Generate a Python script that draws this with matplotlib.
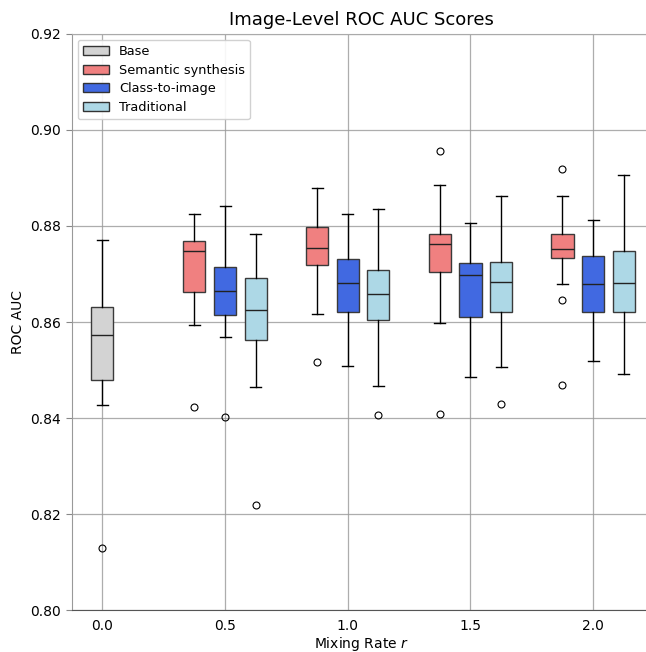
import matplotlib.pyplot as plt
from matplotlib.patches import Patch

# mixing rates
rates = [0.5, 1.0, 1.5, 2.0]

# base model (r = 0)
base_stats = dict(whislo=0.8427, q1=0.8479, med=0.8573, q3=0.8631, whishi=0.8770, fliers=[0.8130])

# per method: lower whisker, Q1, median, Q3, upper whisker, outliers (one entry per rate)
sem_lo = [0.8594, 0.8617, 0.8599, 0.8679]
sem_q1 = [0.8662, 0.8719, 0.8705, 0.8733]
sem_med = [0.8748, 0.8754, 0.8763, 0.8752]
sem_q3 = [0.8769, 0.8798, 0.8783, 0.8784]
sem_hi = [0.8825, 0.8879, 0.8885, 0.8862]
sem_fl = [[0.8424], [0.8516], [0.8408, 0.8957], [0.8469, 0.8647, 0.8919]]

cls_lo = [0.8570, 0.8509, 0.8486, 0.8520]
cls_q1 = [0.8615, 0.8621, 0.8611, 0.8620]
cls_med = [0.8665, 0.8682, 0.8697, 0.8679]
cls_q3 = [0.8715, 0.8731, 0.8723, 0.8737]
cls_hi = [0.8842, 0.8825, 0.8807, 0.8812]
cls_fl = [[0.8403], [], [], []]

trd_lo = [0.8464, 0.8467, 0.8506, 0.8493]
trd_q1 = [0.8563, 0.8604, 0.8620, 0.8620]
trd_med = [0.8625, 0.8658, 0.8683, 0.8681]
trd_q3 = [0.8692, 0.8709, 0.8725, 0.8747]
trd_hi = [0.8783, 0.8835, 0.8863, 0.8906]
trd_fl = [[0.8219], [0.8407], [0.8430], []]

labels = ['Base', 'Semantic synthesis', 'Class-to-image', 'Traditional']
colors = ['lightgray', 'lightcoral', 'royalblue', 'lightblue']


def make_stats(lo, q1, med, q3, hi, fl):
    return [dict(whislo=lo[i], q1=q1[i], med=med[i], q3=q3[i], whishi=hi[i], fliers=fl[i])
            for i in range(len(lo))]


fig = plt.figure(figsize=(6.46, 6.52), dpi=100)
# the axes run a little past the right edge of the picture (right spine cut off)
ax = fig.add_axes([0.111, 0.0638, 0.8957, 0.8844])

width = 0.09
boxprops = dict(edgecolor='#3a3a3a', linewidth=1.0)
common = dict(widths=width, patch_artist=True, boxprops=boxprops,
              whiskerprops=dict(color='black', linewidth=1.0),
              capprops=dict(color='black', linewidth=1.0),
              medianprops=dict(color='#222222', linewidth=1.0),
              flierprops=dict(marker='o', markerfacecolor='none', markeredgecolor='black',
                              markersize=5, markeredgewidth=0.8))

groups = [
    ([base_stats], [0.0]),
    (make_stats(sem_lo, sem_q1, sem_med, sem_q3, sem_hi, sem_fl), [r - 0.125 for r in rates]),
    (make_stats(cls_lo, cls_q1, cls_med, cls_q3, cls_hi, cls_fl), rates),
    (make_stats(trd_lo, trd_q1, trd_med, trd_q3, trd_hi, trd_fl), [r + 0.125 for r in rates]),
]
for (stats, pos), col in zip(groups, colors):
    b = ax.bxp(stats, positions=pos, manage_ticks=False, **common)
    for patch in b['boxes']:
        patch.set_facecolor(col)

ax.set_xlim(-0.125, 2.233)
ax.set_ylim(0.80, 0.92)
ax.set_xticks([0.0, 0.5, 1.0, 1.5, 2.0])
ax.set_xticklabels(['0.0', '0.5', '1.0', '1.5', '2.0'])
ax.set_yticks([0.80, 0.82, 0.84, 0.86, 0.88, 0.90, 0.92])
ax.set_yticklabels(['0.80', '0.82', '0.84', '0.86', '0.88', '0.90', '0.92'])
ax.tick_params(axis='x', length=0, labelsize=10, pad=6)
ax.tick_params(axis='y', length=4, labelsize=10, color='#888888')
ax.grid(True, color='#999999', linewidth=0.9, alpha=0.8)
ax.set_axisbelow(True)
ax.spines['right'].set_visible(False)
ax.spines['top'].set_color('#aaaaaa')
ax.spines['left'].set_color('#999999')
ax.spines['bottom'].set_color('#555555')

ax.set_title('Image-Level ROC AUC Scores', fontsize=13, pad=6)
ax.set_xlabel('Mixing Rate $r$', fontsize=10)
ax.xaxis.set_label_coords(0.5, -0.043)
ax.set_ylabel('ROC AUC', fontsize=10)

handles = [Patch(facecolor=c, edgecolor='#333333', label=l) for c, l in zip(colors, labels)]
ax.legend(handles=handles, loc='upper left', fontsize=9.3, framealpha=0.9,
          borderaxespad=0.45, labelspacing=0.45)

fig.savefig('out.png', dpi=100)
